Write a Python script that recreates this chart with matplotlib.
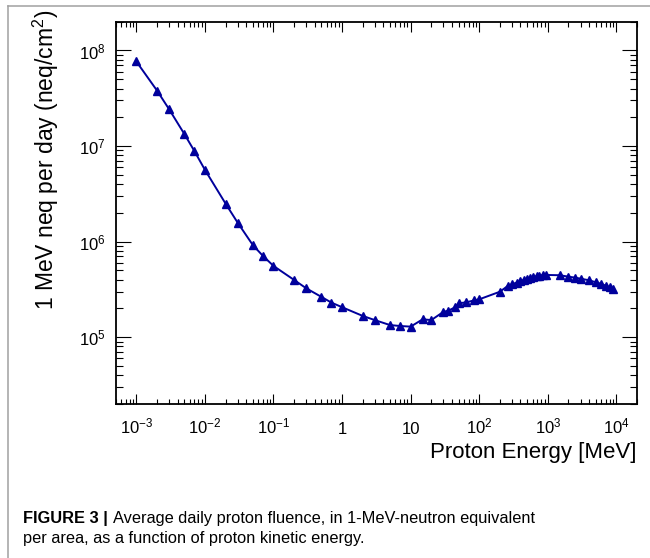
import matplotlib
matplotlib.use("Agg")
import matplotlib.pyplot as plt
from matplotlib.ticker import FixedLocator, FixedFormatter, LogLocator, NullFormatter
from matplotlib.lines import Line2D

plt.rcParams['font.family'] = ['Liberation Sans', 'DejaVu Sans']
plt.rcParams['mathtext.fontset'] = 'custom'
plt.rcParams['mathtext.rm'] = 'Liberation Sans'
plt.rcParams['mathtext.it'] = 'Liberation Sans:italic'
plt.rcParams['mathtext.bf'] = 'Liberation Sans:bold'

# proton energy (MeV) and 1 MeV neq fluence per day
energy = [1e-3, 2e-3, 3e-3, 5e-3, 7e-3, 1e-2, 2e-2, 3e-2, 5e-2, 7e-2,
          0.1, 0.2, 0.3, 0.5, 0.7, 1, 2, 3, 5, 7,
          10, 15, 20, 30, 35, 45, 50, 65, 85, 100,
          200, 260, 300, 350, 400, 450, 500, 550, 600, 700,
          750, 850, 950, 1500, 2000, 2500, 3000, 4000, 5000, 6000,
          7000, 8000, 9000]
fluence = [7.67e7, 3.81e7, 2.43e7, 1.34e7, 8.9e6, 5.64e6, 2.5e6, 1.58e6, 9.2e5, 7.1e5,
           5.57e5, 3.97e5, 3.25e5, 2.64e5, 2.30e5, 2.06e5, 1.67e5, 1.51e5, 1.34e5, 1.31e5,
           1.29e5, 1.54e5, 1.51e5, 1.84e5, 1.89e5, 2.06e5, 2.26e5, 2.32e5, 2.43e5, 2.49e5,
           2.99e5, 3.43e5, 3.58e5, 3.72e5, 3.85e5, 3.97e5, 4.07e5, 4.17e5, 4.27e5, 4.34e5,
           4.41e5, 4.45e5, 4.48e5, 4.45e5, 4.30e5, 4.20e5, 4.10e5, 3.94e5, 3.76e5, 3.61e5,
           3.46e5, 3.33e5, 3.17e5]

xticks = [1e-3, 1e-2, 1e-1, 1, 10, 1e2, 1e3, 1e4]
xticklabels = [r'$\mathregular{10^{-3}}$', r'$\mathregular{10^{-2}}$', r'$\mathregular{10^{-1}}$',
               '1', '10', r'$\mathregular{10^{2}}$', r'$\mathregular{10^{3}}$', r'$\mathregular{10^{4}}$']
yticks = [1e5, 1e6, 1e7, 1e8]
yticklabels = [r'$\mathregular{10^{5}}$', r'$\mathregular{10^{6}}$',
               r'$\mathregular{10^{7}}$', r'$\mathregular{10^{8}}$']

W, H = 650, 558
fig = plt.figure(figsize=(W / 100, H / 100), dpi=100)
ax = fig.add_axes([115.7 / W, 1 - 404 / H, (637 - 115.7) / W, (404 - 21.7) / H])

ax.plot(energy, fluence, color='#00009c', lw=1.4, marker='^', markersize=5.5)

ax.set_xscale('log')
ax.set_yscale('log')
ax.set_xlim(5e-4, 2e4)
ax.set_ylim(2e4, 2e8)

ax.xaxis.set_major_locator(FixedLocator(xticks))
ax.xaxis.set_major_formatter(FixedFormatter(xticklabels))
ax.xaxis.set_minor_locator(LogLocator(base=10, subs=range(2, 10), numticks=30))
ax.xaxis.set_minor_formatter(NullFormatter())
ax.yaxis.set_major_locator(FixedLocator(yticks))
ax.yaxis.set_major_formatter(FixedFormatter(yticklabels))
ax.yaxis.set_minor_locator(LogLocator(base=10, subs=range(2, 10), numticks=30))
ax.yaxis.set_minor_formatter(NullFormatter())

ax.tick_params(axis='both', which='both', direction='in', top=True, right=True, width=0.8, color='black')
ax.tick_params(axis='x', which='major', length=7, pad=21.5, labelsize=12)
ax.tick_params(axis='x', which='minor', length=3.5)
ax.tick_params(axis='y', which='major', length=11, pad=7.5, labelsize=12)
ax.tick_params(axis='y', which='minor', length=5)
for lbl in ax.get_xticklabels():
    lbl.set_verticalalignment('baseline')
for sp in ax.spines.values():
    sp.set_linewidth(1.3)

fig.text(637 / W, 1 - 458 / H, 'Proton Energy [MeV]', ha='right', va='baseline', fontsize=16)
fig.text(46 / W, 1 - 10 / H, r'1 MeV neq per day (neq/cm$^2$)', rotation=90,
         ha='center', va='top', fontsize=16.5)

# panel border
fig.add_artist(Line2D([8 / W, 8 / W], [0, 1 - 6 / H], color='#a0a0a0', lw=1.1))
fig.add_artist(Line2D([8 / W, 1], [1 - 6 / H, 1 - 6 / H], color='#a0a0a0', lw=1.1))

# caption
cap_y1 = 1 - 522.7 / H
cap_y2 = 1 - 543.3 / H
t1 = fig.text(22.7 / W, cap_y1, 'FIGURE 3 |', fontsize=11.8, fontweight='bold', va='baseline')
fig.canvas.draw()
bb = t1.get_window_extent(fig.canvas.get_renderer())
fig.text((bb.x1 + 5) / W, cap_y1, 'Average daily proton fluence, in 1-MeV-neutron equivalent',
         fontsize=11.8, va='baseline')
fig.text(22.7 / W, cap_y2, 'per area, as a function of proton kinetic energy.',
         fontsize=11.8, va='baseline')

fig.savefig('out.png', dpi=100)
